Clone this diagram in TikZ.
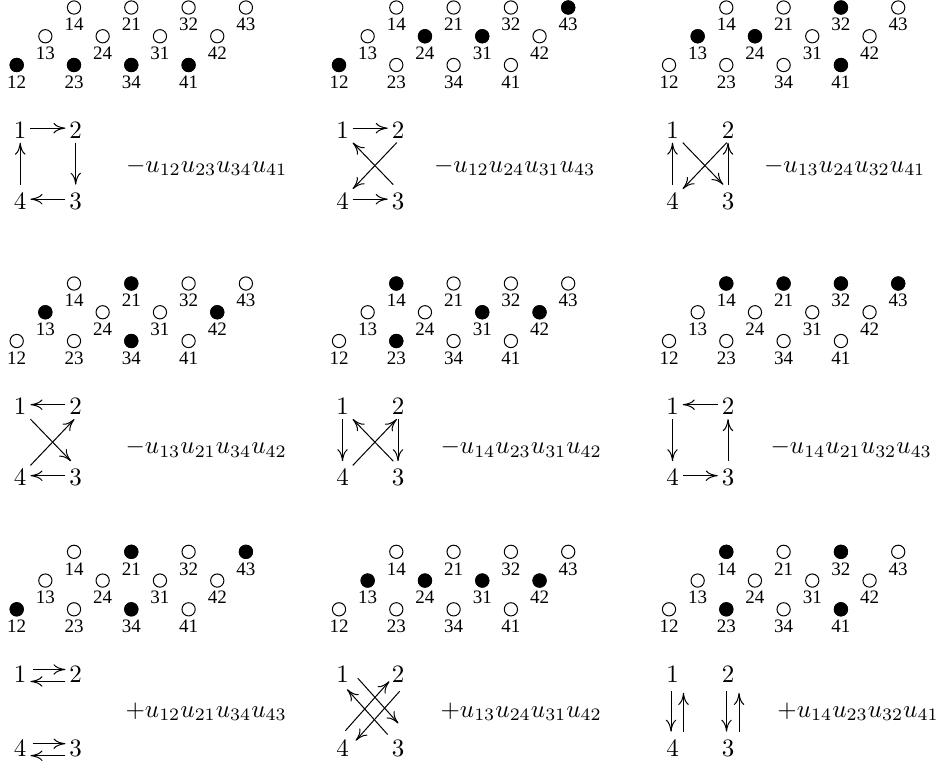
\documentclass[tikz,border=0pt]{standalone}
\usepackage{fontspec}
\newfontfamily\labfont{Liberation Serif}
\usetikzlibrary{calc,arrows.meta}
\tikzset{
  dot/.style={circle,draw,line width=0.4pt,inner sep=0pt,minimum size=5.3pt},
  lab/.style={font=\labfont\fontsize{7.6}{8}\selectfont,inner sep=0pt},
  vert/.style={anchor=base,inner xsep=1.4pt,inner ysep=1.5pt,text height=8.2pt,text depth=0pt,font=\fontsize{10.4}{12}\selectfont},
  edge/.style={line width=0.4pt,-{Computer Modern Rightarrow[length=4.8pt,width=4.2pt]}},
  term/.style={anchor=base west,inner sep=0pt,font=\fontsize{10.4}{12}\selectfont}
}
% #1 name, #2 X0, #3 Y0, #4 filled list, #5 top digit centre y, #6 bottom digit centre y
\newcommand\PanelDraw[6]{%
  \foreach \lab/\dx/\dy in {12/0/0,23/1/0,34/2/0,41/3/0,13/0.5/1,24/1.5/1,31/2.5/1,42/3.5/1,14/1/2,21/2/2,32/3/2,43/4/2}{%
    \node[dot] (#1-\lab) at ({#2+57.3*\dx},{#3-28.75*\dy}) {};
    \node[lab] (#1-\lab-t) at ({#2+57.3*\dx},{#3-28.75*\dy+17}) {\lab};
  }
  \foreach \f in {#4}{\fill (#1-\f.center) circle[radius=2.85pt];}
  \node[vert] (#1-1) at ({#2+3.5},{#5+8.4}) {$1$};
  \node[vert] (#1-2) at ({#2+59},{#5+8.4}) {$2$};
  \node[vert] (#1-4) at ({#2+3.5},{#6+8.4}) {$4$};
  \node[vert] (#1-3) at ({#2+59},{#6+8.4}) {$3$};
}
\begin{document}
\begin{tikzpicture}[x=0.4pt,y=-0.4pt]
\useasboundingbox (0,0) rectangle (950,762);
% ---------- row 1 ----------
\PanelDraw{p11}{16.7}{65}{12,23,34,41}{130}{201}
\draw[edge] (p11-1.east) -- (p11-2.west);
\draw[edge] (p11-2.south) -- (p11-3.north);
\draw[edge] (p11-3.west) -- (p11-4.east);
\draw[edge] (p11-4.north) -- (p11-1.south);
\node[term] (t11) at (125.5,172) {$-u_{12}u_{23}u_{34}u_{41}$};

\PanelDraw{p12}{339}{65}{12,24,31,43}{130}{201}
\draw[edge] (p12-1.east) -- (p12-2.west);
\draw[edge] (p12-2.265) -- (p12-4.45);
\draw[edge] (p12-4.east) -- (p12-3.west);
\draw[edge] (p12-3.108) -- (p12-1.south east);
\node[term] (t12) at (433.5,172) {$-u_{12}u_{24}u_{31}u_{43}$};

\PanelDraw{p13}{669}{65}{13,24,32,41}{130}{201}
\draw[edge] (p13-1.south east) -- (p13-3.108);
\draw[edge] (p13-2.265) -- (p13-4.45);
\draw[edge] (p13-4.north) -- (p13-1.south);
\draw[edge] (p13-3.north) -- (p13-2.south);
\node[term] (t13) at (763.5,172) {$-u_{13}u_{24}u_{32}u_{41}$};

% ---------- row 2 ----------
\PanelDraw{p21}{16.7}{341}{13,21,34,42}{406.5}{477.5}
\draw[edge] (p21-2.west) -- (p21-1.east);
\draw[edge] (p21-1.south east) -- (p21-3.108);
\draw[edge] (p21-4.45) -- (p21-2.265);
\draw[edge] (p21-3.west) -- (p21-4.east);
\node[term] (t21) at (125,453.7) {$-u_{13}u_{21}u_{34}u_{42}$};

\PanelDraw{p22}{339}{341}{14,23,31,42}{406.5}{477.5}
\draw[edge] (p22-1.south) -- (p22-4.north);
\draw[edge] (p22-2.south) -- (p22-3.north);
\draw[edge] (p22-3.108) -- (p22-1.south east);
\draw[edge] (p22-4.45) -- (p22-2.265);
\node[term] (t22) at (440,453.7) {$-u_{14}u_{23}u_{31}u_{42}$};

\PanelDraw{p23}{669}{341}{14,21,32,43}{406.5}{477.5}
\draw[edge] (p23-2.west) -- (p23-1.east);
\draw[edge] (p23-1.south) -- (p23-4.north);
\draw[edge] (p23-4.east) -- (p23-3.west);
\draw[edge] (p23-3.north) -- (p23-2.south);
\node[term] (t23) at (770,453.7) {$-u_{14}u_{21}u_{32}u_{43}$};

% ---------- row 3 ----------
\PanelDraw{p31}{16.7}{609.3}{12,21,34,43}{673.8}{748}
\draw[edge,shorten <=1.2pt] ($(p31-1.east)+(0,-2.5)$) -- ($(p31-2.west)+(0,-2.5)$);
\draw[edge] ($(p31-2.west)+(0,9.5)$) -- ($(p31-1.east)+(0,9.5)$);
\draw[edge,shorten <=1.2pt] ($(p31-4.east)+(0,-2.5)$) -- ($(p31-3.west)+(0,-2.5)$);
\draw[edge] ($(p31-3.west)+(0,9.5)$) -- ($(p31-4.east)+(0,9.5)$);
\node[term] (t31) at (125,717) {$+u_{12}u_{21}u_{34}u_{43}$};

\PanelDraw{p32}{339}{609.3}{13,24,31,42}{673.8}{748}
\draw[edge] ($(p32-1.south east)+(5,-8.3)$) -- ($(p32-3.108)+(5,-8.3)$);
\draw[edge] ($(p32-3.108)+(-5.7,2.8)$) -- ($(p32-1.south east)+(-5.7,2.8)$);
\draw[edge] ($(p32-4.45)+(-7.4,-5.2)$) -- ($(p32-2.265)+(-7.4,-5.2)$);
\draw[edge] ($(p32-2.265)+(3,4.7)$) -- ($(p32-4.45)+(3,4.7)$);
\node[term] (t32) at (440,717) {$+u_{13}u_{24}u_{31}u_{42}$};

\PanelDraw{p33}{669}{609.3}{14,23,32,41}{673.8}{748}
\draw[edge,shorten <=1.9pt] ($(p33-1.south)+(-1.5,0)$) -- ($(p33-4.north)+(-1.5,0)$);
\draw[edge,shorten >=2.6pt] ($(p33-4.north)+(11,0)$) -- ($(p33-1.south)+(11,0)$);
\draw[edge,shorten <=1.9pt] ($(p33-2.south)+(-1.5,0)$) -- ($(p33-3.north)+(-1.5,0)$);
\draw[edge,shorten >=2.6pt] ($(p33-3.north)+(11,0)$) -- ($(p33-2.south)+(11,0)$);
\node[term] (t33) at (776.8,717) {$+u_{14}u_{23}u_{32}u_{41}$};
\end{tikzpicture}
\end{document}
